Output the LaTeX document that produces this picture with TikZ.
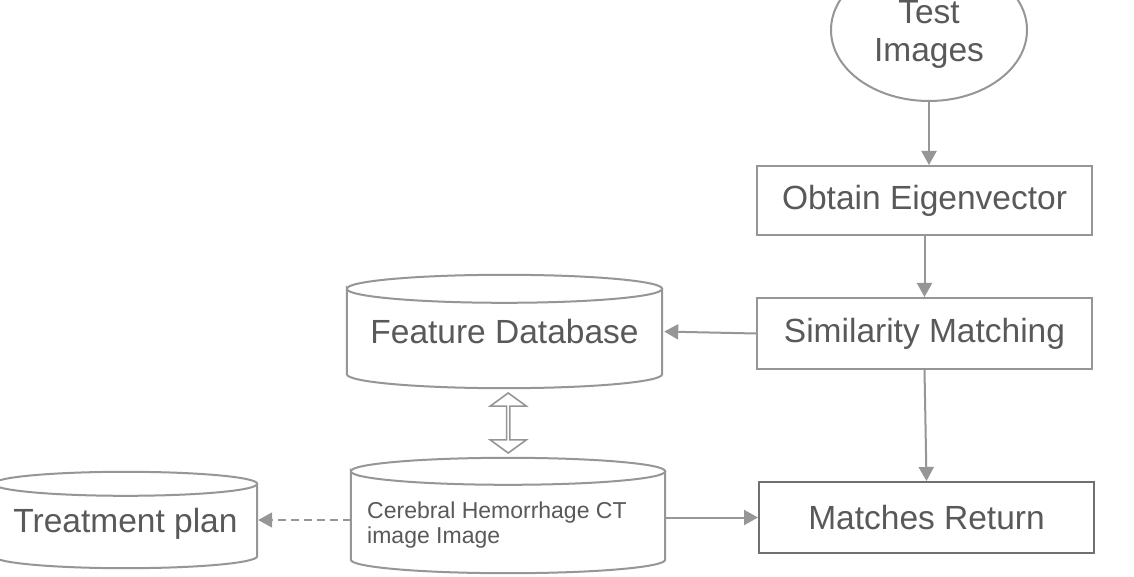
\documentclass[tikz,border=0pt]{standalone}
\usepackage{fontspec}
\setmainfont{Liberation Sans}
\usetikzlibrary{shapes.geometric,shapes.arrows,arrows.meta,calc}
\definecolor{linecol}{RGB}{150,150,150}
\definecolor{txtcol}{RGB}{89,89,89}
\definecolor{boxdark}{RGB}{112,112,112}
\newcommand\cylout[2]{%
  \draw[edge] let \p1=(#1.north west), \p2=(#1.south east), \n1={(\x2-\x1)/2} in
    (\x1,{\y1-#2pt}) arc[start angle=180, end angle=-180, x radius=\n1, y radius=#2pt]
    -- (\x1,{\y2+#2pt}) arc[start angle=180, end angle=360, x radius=\n1, y radius=#2pt]
    -- (\x2,{\y1-#2pt});}
\begin{document}
\begin{tikzpicture}[x=1pt,y=1pt,
  edge/.style={draw=linecol, line width=2pt},
  arr/.style={draw=linecol, line width=2pt, -{Triangle[length=14pt,width=15pt]}, color=linecol},
  bigtxt/.style={text=txtcol, font=\fontsize{33.5}{38}\selectfont},
  smalltxt/.style={text=txtcol, font=\fontsize{23}{25}\selectfont},
  procbox/.style={rectangle, draw=linecol, line width=2pt, minimum width=335pt, inner sep=0pt, bigtxt},
  cylnode/.style={rectangle, draw=none, inner sep=0pt}]
\clip (0,0) rectangle (1134,576);
\fill[white] (0,0) rectangle (1134,576);
% Test Images
\node[ellipse, draw=linecol, line width=2pt, minimum width=196pt, minimum height=142pt,
      inner sep=0pt, bigtxt] (te) at (929,546)
  {\raisebox{-5pt}[\height][\depth]{\begin{tabular}{@{}c@{}}Test\\Images\end{tabular}}};
% process boxes
\node[procbox, minimum height=69pt] (obt) at (924.5,375.5) {Obtain Eigenvector};
\node[procbox, minimum height=71pt] (sim) at (924.5,242.5) {Similarity Matching};
\node[procbox, draw=boxdark, minimum height=71pt] (mat) at (926.5,58.5) {Matches Return};
% cylinders
\node[cylnode, minimum width=315pt, minimum height=113pt, bigtxt] (fdb) at (504.5,244.5) {Feature Database};
\cylout{fdb}{14}
\node[cylnode, minimum width=314pt, minimum height=115pt] (cer) at (508,60.5) {};
\cylout{cer}{13.5}
\node[smalltxt, align=left, anchor=west, inner sep=0pt] (certxt) at (367,50.5)
  {Cerebral Hemorrhage CT\\image Image};
\node[cylnode, minimum width=263pt, minimum height=96pt, text depth=0pt, bigtxt] (tp) at (125.5,56) {Treatment plan};
\cylout{tp}{12}
% connectors
\draw[arr] (te.south) -- (te.south |- obt.north);
\draw[arr] (obt.south) -- (sim.north);
\draw[arr, shorten >=2pt] (sim.west) -- (fdb.east);
\draw[arr] (sim.south) -- (mat.north);
\draw[arr] (cer.east |- mat.west) -- (mat.west);
\draw[arr, dash pattern=on 8pt off 5pt, shorten >=1pt] (cer.west |- tp.east) -- (tp.east);
\node[double arrow, draw=linecol, line width=1.6pt, fill=white, rotate=90,
      minimum height=60pt, minimum width=36pt, inner sep=0pt,
      double arrow head extend=8pt, double arrow tip angle=108] (dbl)
  at ($(fdb.south)!0.5!(cer.north)+(2,0)$) {};
\end{tikzpicture}
\end{document}
